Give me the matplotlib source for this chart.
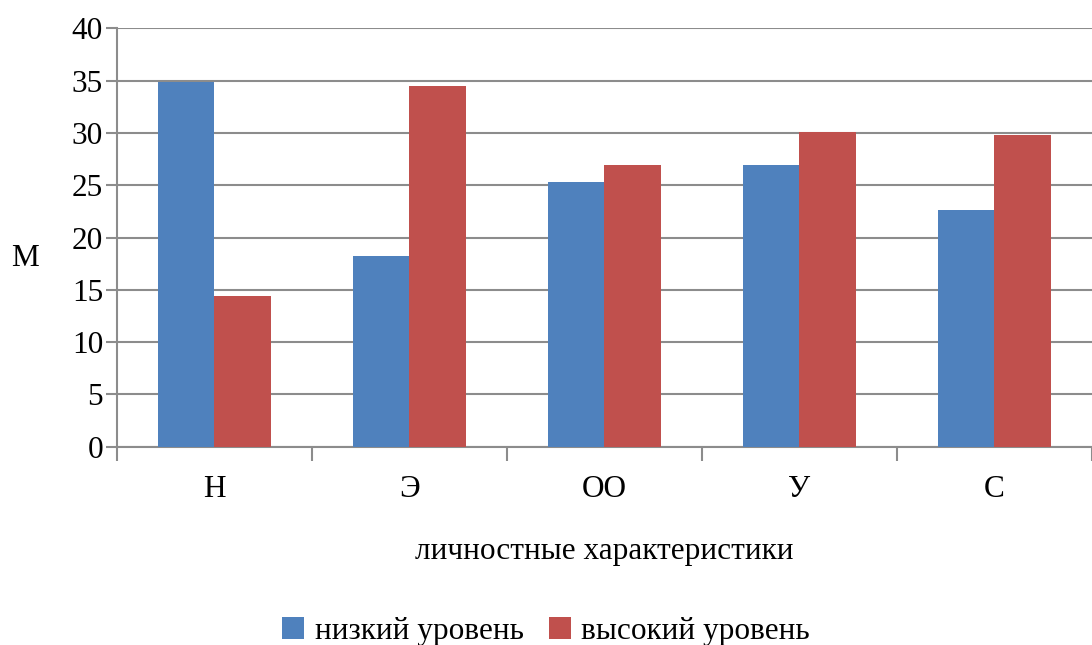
import numpy as np
import matplotlib.pyplot as plt

plt.rcParams['font.family'] = ['Liberation Serif', 'DejaVu Serif']

# данные
categories = ['Н', 'Э', 'ОО', 'У', 'С']
low = [34.9, 18.2, 25.3, 26.9, 22.6]
high = [14.4, 34.5, 26.9, 30.1, 29.8]

BLUE = '#4f81bd'
RED = '#c0504d'
GRID = '#8c8c8c'
FS = 22.5

fig = plt.figure(figsize=(10.92, 6.45), dpi=100)
ax = fig.add_axes([0.1071, 0.3074, 0.8929, 0.6487])

x = np.arange(len(categories))
w = 0.292
ax.bar(x - w / 2, low, w, color=BLUE, label='низкий уровень', zorder=3)
ax.bar(x + w / 2, high, w, color=RED, label='высокий уровень', zorder=3)

ax.set_xlim(-0.5, len(categories) - 0.5)
ax.set_ylim(0, 40)
ax.set_yticks(np.arange(0, 41, 5))
ax.yaxis.grid(True, color=GRID, linewidth=1.5, zorder=0)

# метки категорий по центру, засечки на границах
ax.set_xticks(x)
ax.set_xticklabels(categories)
ax.set_xticks(np.arange(-0.5, len(categories), 1), minor=True)
ax.tick_params(axis='x', which='major', length=0, pad=20, labelsize=FS)
ax.tick_params(axis='x', which='minor', length=10, width=1.5, color=GRID, direction='out')
ax.tick_params(axis='y', length=8, width=1.5, color=GRID, direction='out', labelsize=FS, pad=2)

for s in ['top', 'right']:
    ax.spines[s].set_visible(False)
for s in ['left', 'bottom']:
    ax.spines[s].set_color(GRID)
    ax.spines[s].set_linewidth(1.5)

ax.set_ylabel('М', rotation=0, fontsize=FS, va='center', ha='center')
ax.yaxis.set_label_coords(-0.094, 0.451)
ax.set_xlabel('личностные характеристики', fontsize=FS, labelpad=24)

fig.legend(loc='lower center', bbox_to_anchor=(0.5, -0.045), ncol=2, frameon=False,
           fontsize=FS, handlelength=0.7, handleheight=0.7, handletextpad=0.35,
           columnspacing=0.8)

fig.savefig('out.png', dpi=100)
